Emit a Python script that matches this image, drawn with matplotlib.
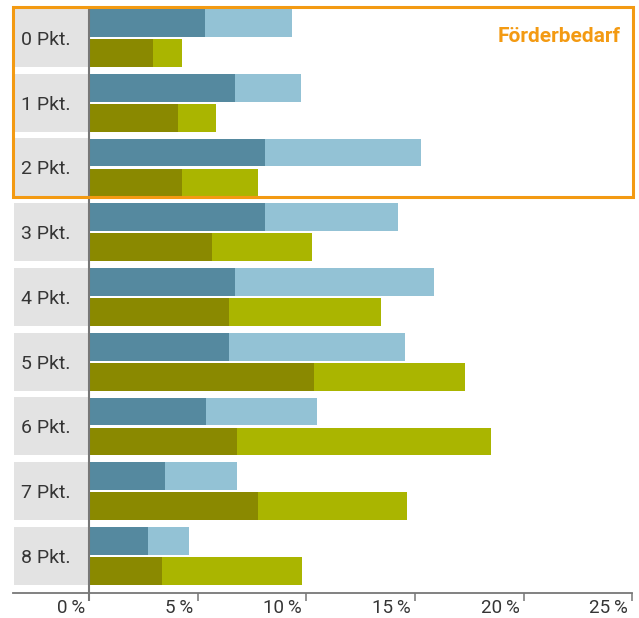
import matplotlib
matplotlib.use("Agg")
import matplotlib.pyplot as plt
from matplotlib.patches import Rectangle
from matplotlib import transforms
import numpy as np

categories = ['0 Pkt.', '1 Pkt.', '2 Pkt.', '3 Pkt.', '4 Pkt.', '5 Pkt.', '6 Pkt.', '7 Pkt.', '8 Pkt.']
blue_dark = [5.35, 6.7, 8.1, 8.1, 6.7, 6.45, 5.4, 3.5, 2.7]
blue_light = [4.0, 3.05, 7.2, 6.1, 9.2, 8.1, 5.1, 3.3, 1.9]
green_dark = [2.95, 4.1, 4.3, 5.65, 6.45, 10.35, 6.8, 7.8, 3.35]
green_light = [1.35, 1.75, 3.5, 4.6, 7.0, 6.95, 11.7, 6.85, 6.45]
xticks = [0, 5, 10, 15, 20, 25]
xtick_labels = ['0\u2009%', '5\u2009%', '10\u2009%', '15\u2009%', '20\u2009%', '25\u2009%']
highlight_label = 'Förderbedarf'

C_BD = '#55899f'
C_BL = '#93c2d5'
C_GD = '#8a8900'
C_GL = '#aab500'
C_OR = '#f39a12'
C_BOX = '#e3e3e3'
C_TXT = '#353535'
C_AX = '#777777'

plt.rcParams['font.family'] = ['Roboto', 'DejaVu Sans']

W, H = 639, 618
fig = plt.figure(figsize=(W / 100, H / 100), dpi=100)
ax_left, ax_right = 13, 632.3
ax_bottom_px = 592.7
ax = fig.add_axes([ax_left / W, (H - ax_bottom_px) / H, (ax_right - ax_left) / W, ax_bottom_px / H])
ax.set_xlim(-3.49, 25.0)
ax.set_ylim(8.567, -0.587)

y = np.arange(len(categories))
bh = 0.428
off = 0.232

# gray label boxes
ax.barh(y, 3.42, left=-3.44, height=0.896, color=C_BOX, zorder=1)
for i, c in enumerate(categories):
    ax.text(-3.12, y[i] + 0.03, c, ha='left', va='center', fontsize=14, color=C_TXT, zorder=3)

ax.barh(y - off, blue_dark, height=bh, left=0, color=C_BD, zorder=2)
ax.barh(y - off, blue_light, height=bh, left=blue_dark, color=C_BL, zorder=2)
ax.barh(y + off, green_dark, height=bh, left=0, color=C_GD, zorder=2)
ax.barh(y + off, green_light, height=bh, left=green_dark, color=C_GL, zorder=2)

# axes styling
for s in ['top', 'right', 'left']:
    ax.spines[s].set_visible(False)
ax.spines['bottom'].set_color(C_AX)
ax.spines['bottom'].set_linewidth(1.3)
ax.set_yticks([])
ax.set_xticks(xticks)
ax.set_xticklabels([''] * len(xticks))
ax.tick_params(axis='x', direction='out', length=6, width=1.1, color=C_AX)

# zero line
ax.plot([0, 0], [-0.45, 8.567 + 8 / 64.75], color=C_AX, lw=1.5, zorder=4, clip_on=False, solid_capstyle='butt')

# tick labels, right aligned left of tick
tr = transforms.offset_copy(ax.get_xaxis_transform(), fig=fig, x=-4, y=-15, units='dots')
for xv, lab in zip(xticks, xtick_labels):
    ax.text(xv, 0, lab, transform=tr, ha='right', va='center', fontsize=13.5, color=C_TXT, clip_on=False)

# highlight box
rect = Rectangle((-3.49, -0.479), 25.05 + 3.49, 2.456 + 0.479, fill=False, edgecolor=C_OR, lw=2.2, zorder=5, clip_on=False)
ax.add_patch(rect)
ax.text(24.45, -0.02, highlight_label, ha='right', va='center', fontsize=15, fontweight='bold', color=C_OR, zorder=6)

fig.savefig('out.png', dpi=100)
